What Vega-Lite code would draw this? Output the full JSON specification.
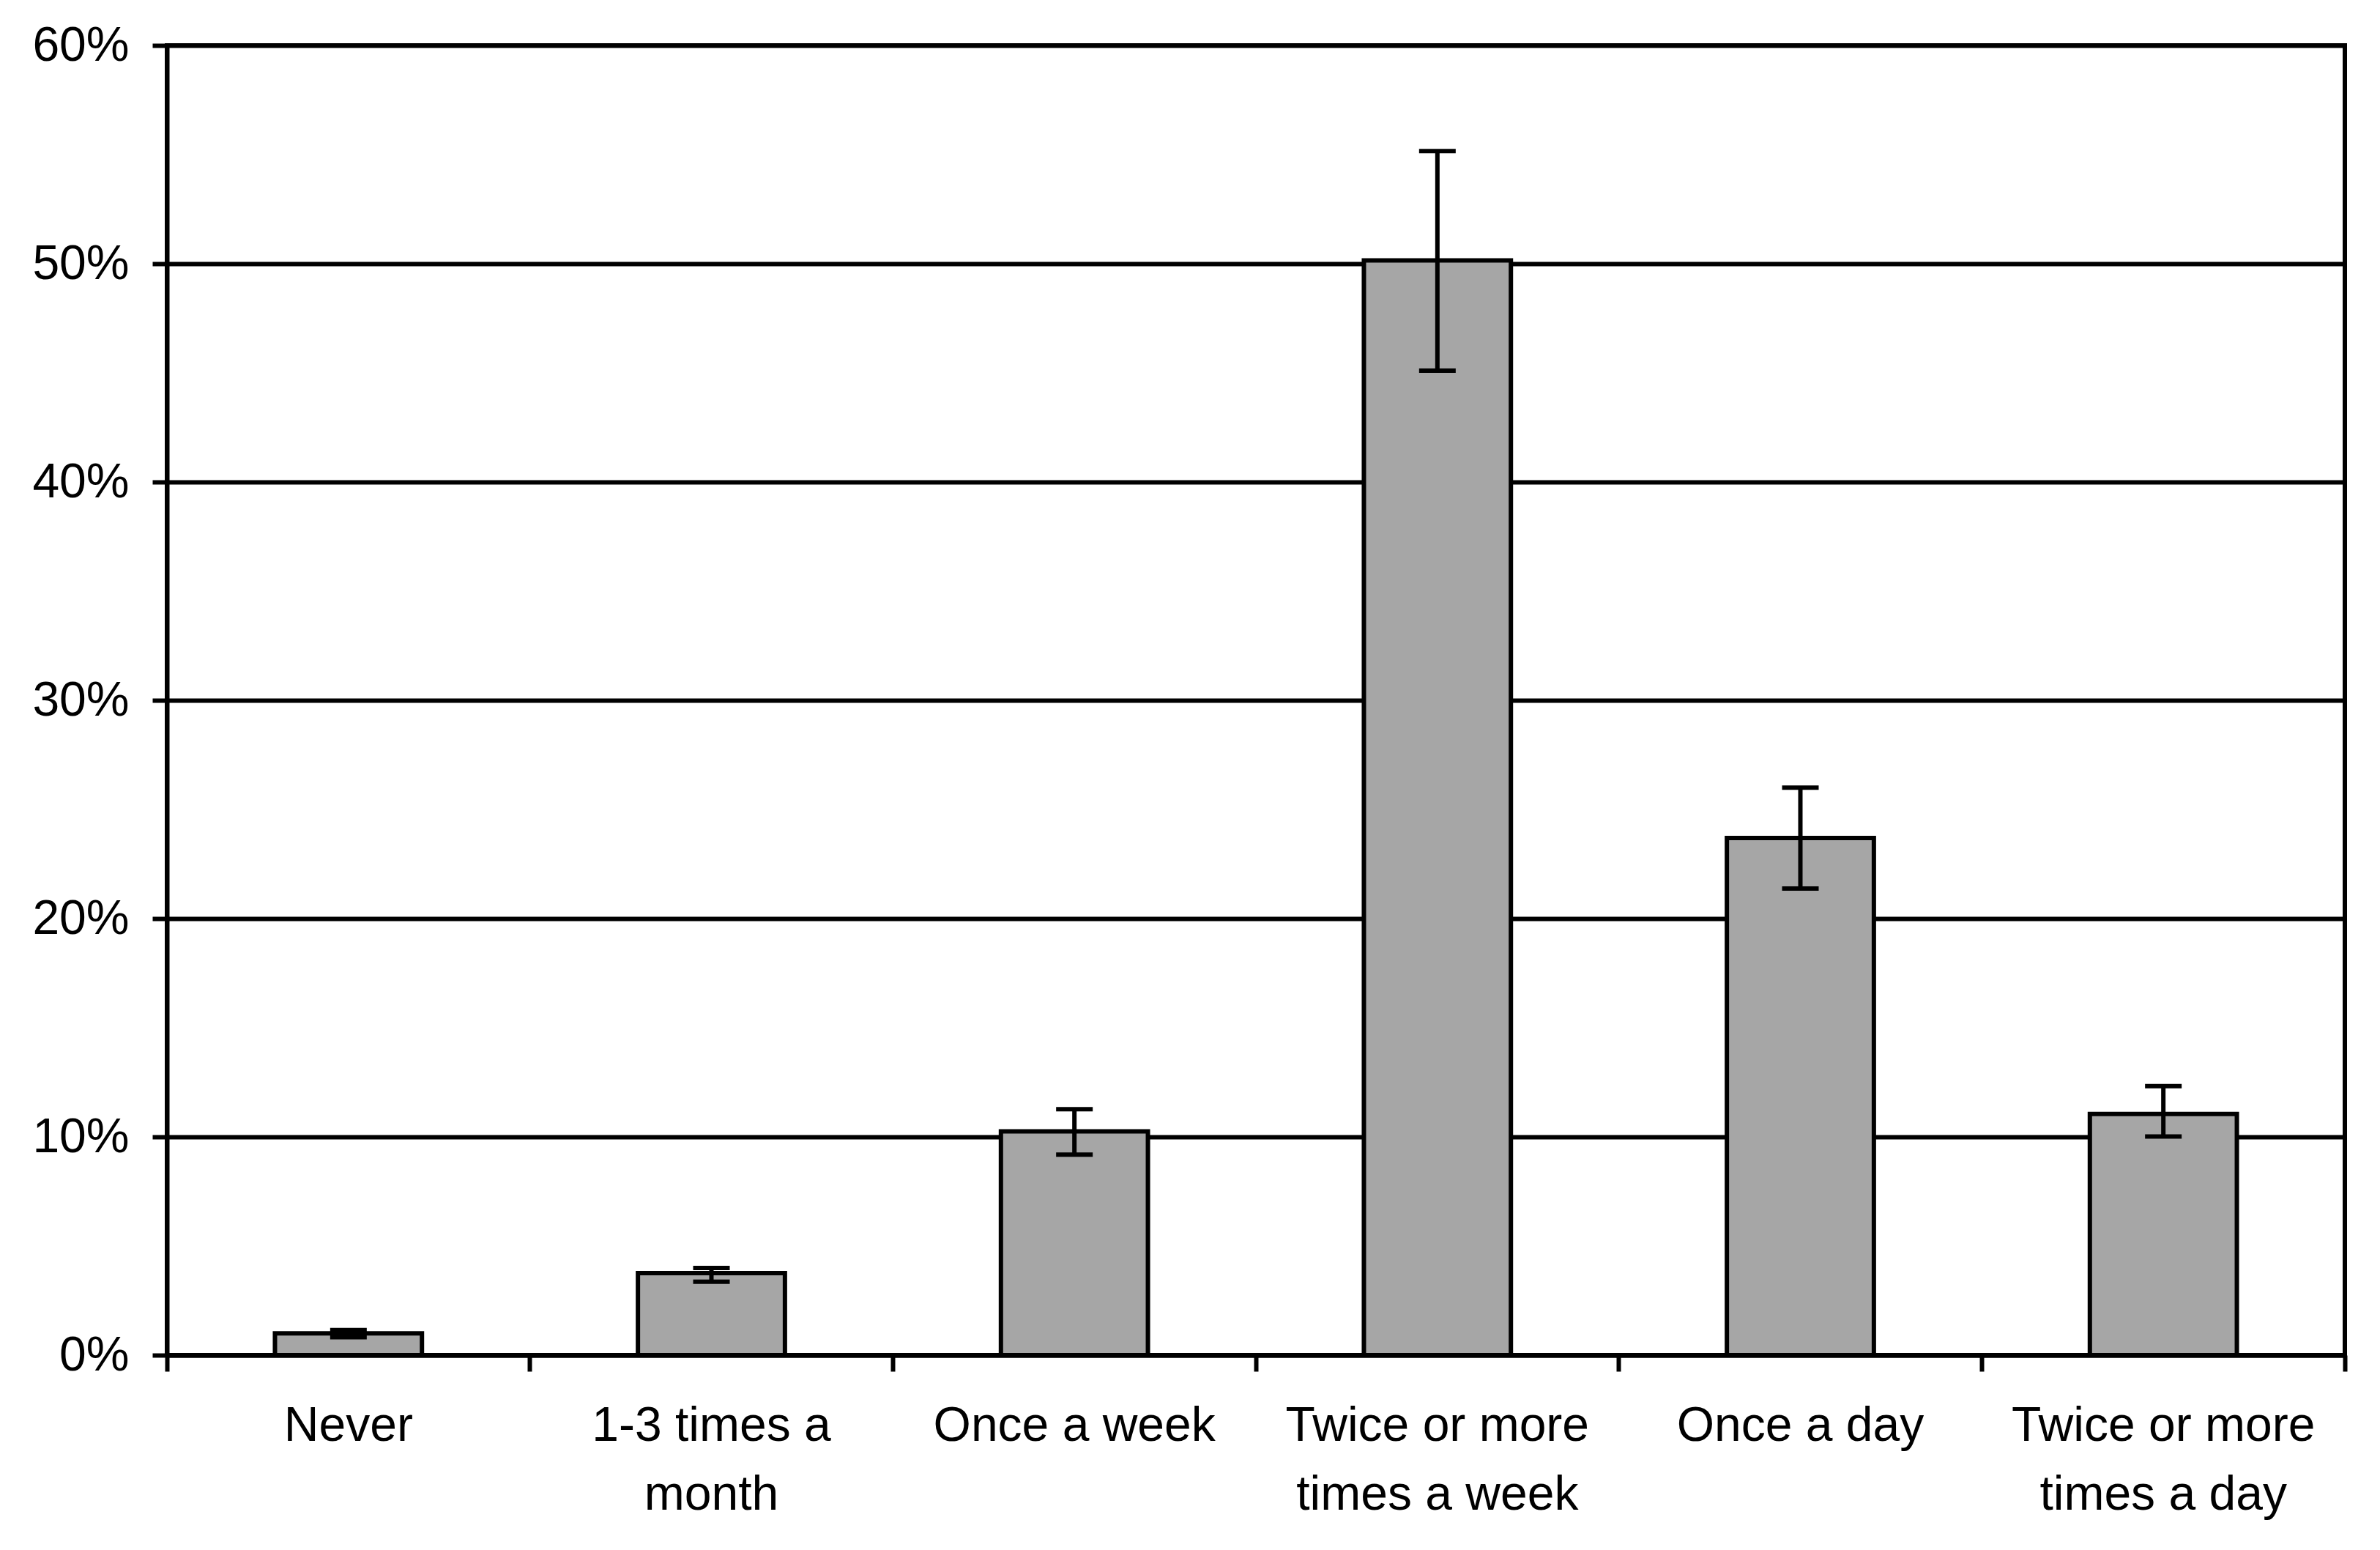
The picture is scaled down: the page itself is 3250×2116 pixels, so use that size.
{
  "$schema": "https://vega.github.io/schema/vega-lite/v6.json",
  "autosize": {"type": "none"},
  "width": 2974,
  "height": 1788,
  "padding": {"left": 228, "top": 62, "right": 48, "bottom": 266},
  "background": "white",
  "config": {
    "view": {"stroke": "black", "strokeWidth": 6, "fill": "white"},
    "font": "Liberation Sans"
  },
  "data": {
    "values": [
      {"freq": "Never", "pct": 0.0100, "lo": 0.0082, "hi": 0.0115},
      {"freq": "1-3 times a month", "pct": 0.0376, "lo": 0.0336, "hi": 0.0399},
      {"freq": "Once a week", "pct": 0.1025, "lo": 0.0919, "hi": 0.1127},
      {"freq": "Twice or more times a week", "pct": 0.5015, "lo": 0.4510, "hi": 0.5516},
      {"freq": "Once a day", "pct": 0.2369, "lo": 0.2138, "hi": 0.2600},
      {"freq": "Twice or more times a day", "pct": 0.1105, "lo": 0.1002, "hi": 0.1232}
    ]
  },
  "encoding": {
    "x": {
      "field": "freq",
      "type": "nominal",
      "sort": null,
      "scale": {"paddingInner": 0, "paddingOuter": 0},
      "axis": {
        "title": null,
        "labelAngle": 0,
        "bandPosition": 1,
        "tickExtra": true,
        "domain": true,
        "domainColor": "black",
        "domainWidth": 6,
        "ticks": true,
        "tickColor": "black",
        "tickWidth": 6,
        "tickSize": 22,
        "labelFont": "Liberation Sans",
        "labelFontSize": 66,
        "labelColor": "black",
        "labelPadding": 42,
        "labelBaseline": "top",
        "labelLineHeight": 94,
        "labelLimit": 0,
        "labelExpr": "datum.label == '1-3 times a month' ? ['1-3 times a', 'month'] : datum.label == 'Twice or more times a week' ? ['Twice or more', 'times a week'] : datum.label == 'Twice or more times a day' ? ['Twice or more', 'times a day'] : datum.label"
      }
    }
  },
  "layer": [
    {
      "mark": {"type": "bar", "fill": "#a6a6a6", "stroke": "black", "strokeWidth": 6, "width": {"band": 0.405}},
      "encoding": {
        "y": {
          "field": "pct",
          "type": "quantitative",
          "scale": {"domain": [0, 0.6], "nice": false},
          "axis": {
            "title": null,
            "values": [0, 0.1, 0.2, 0.3, 0.4, 0.5, 0.6],
            "format": ".0%",
            "grid": true,
            "gridColor": "black",
            "gridWidth": 6,
            "gridOpacity": 1,
            "domain": true,
            "domainColor": "black",
            "domainWidth": 6,
            "tickColor": "black",
            "tickWidth": 6,
            "tickSize": 20,
            "labelFont": "Liberation Sans",
            "labelFontSize": 66,
            "labelColor": "black",
            "labelPadding": 32
          }
        }
      }
    },
    {
      "mark": {"type": "rule", "stroke": "black", "strokeWidth": 6},
      "encoding": {
        "y": {"field": "lo", "type": "quantitative"},
        "y2": {"field": "hi"}
      }
    },
    {
      "mark": {"type": "tick", "color": "black", "size": 50, "thickness": 6, "orient": "horizontal", "opacity": 1},
      "encoding": {
        "y": {"field": "lo", "type": "quantitative"}
      }
    },
    {
      "mark": {"type": "tick", "color": "black", "size": 50, "thickness": 6, "orient": "horizontal", "opacity": 1},
      "encoding": {
        "y": {"field": "hi", "type": "quantitative"}
      }
    }
  ]
}
